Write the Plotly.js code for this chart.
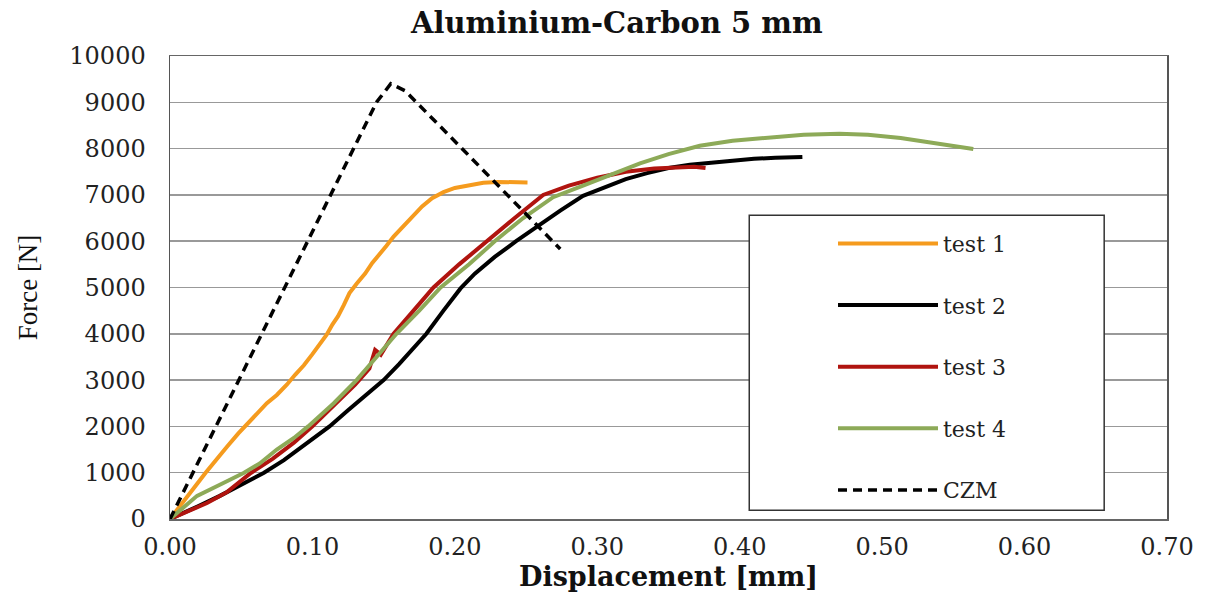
<!DOCTYPE html>
<html>
<head>
<meta charset="utf-8">
<script src="https://cdn.plot.ly/plotly-3.0.1.min.js"></script>
<style>
  html, body { margin: 0; padding: 0; background: #ffffff; }
  #chart { width: 1219px; height: 594px; }
</style>
</head>
<body>
<div id="chart"></div>
<script>
// Force–displacement curves, aluminium–carbon joint, 5 mm overlap

// test 1
const test1X = [0, 0.006, 0.012, 0.018, 0.025, 0.032, 0.04, 0.048, 0.055, 0.062, 0.068, 0.075, 0.082, 0.088, 0.094, 0.1, 0.105, 0.11, 0.114, 0.118, 0.122, 0.126, 0.131, 0.137, 0.142, 0.147, 0.152, 0.157, 0.163, 0.17, 0.177, 0.184, 0.192, 0.2, 0.21, 0.22, 0.23, 0.24, 0.251];
const test1Y = [0, 230, 480, 720, 1000, 1270, 1560, 1850, 2080, 2300, 2500, 2680, 2900, 3120, 3320, 3560, 3760, 3980, 4200, 4380, 4620, 4880, 5080, 5300, 5530, 5700, 5900, 6100, 6300, 6520, 6750, 6930, 7060, 7150, 7210, 7260, 7280, 7280, 7270];

// test 2
const test2X = [0, 0.01, 0.02, 0.035, 0.05, 0.066, 0.08, 0.095, 0.112, 0.125, 0.138, 0.15, 0.161, 0.17, 0.18, 0.192, 0.204, 0.214, 0.228, 0.243, 0.258, 0.274, 0.29, 0.305, 0.32, 0.335, 0.35, 0.365, 0.38, 0.395, 0.41, 0.425, 0.444];
const test2Y = [0, 130, 280, 500, 740, 1000, 1270, 1600, 2000, 2350, 2680, 3000, 3350, 3650, 4000, 4500, 4980, 5300, 5660, 6000, 6330, 6660, 6980, 7170, 7340, 7470, 7580, 7650, 7700, 7750, 7780, 7800, 7820];

// test 3
const test3X = [0, 0.013, 0.026, 0.04, 0.057, 0.072, 0.087, 0.1, 0.115, 0.13, 0.14, 0.144, 0.148, 0.157, 0.171, 0.185, 0.203, 0.222, 0.242, 0.262, 0.28, 0.3, 0.32, 0.34, 0.355, 0.368, 0.376];
const test3Y = [0, 170, 345, 580, 1000, 1300, 1650, 2000, 2450, 2900, 3250, 3650, 3550, 4000, 4500, 5000, 5500, 6000, 6500, 7000, 7200, 7370, 7500, 7570, 7600, 7610, 7580];

// test 4
const test4X = [0, 0.01, 0.019, 0.035, 0.052, 0.063, 0.075, 0.087, 0.097, 0.115, 0.131, 0.145, 0.159, 0.175, 0.19, 0.21, 0.228, 0.248, 0.269, 0.29, 0.31, 0.33, 0.35, 0.372, 0.395, 0.419, 0.445, 0.47, 0.49, 0.513, 0.535, 0.55, 0.564];
const test4Y = [0, 250, 500, 740, 1000, 1200, 1500, 1750, 2000, 2500, 3000, 3500, 4000, 4500, 5000, 5500, 6000, 6500, 6950, 7200, 7440, 7680, 7880, 8060, 8170, 8240, 8300, 8320, 8300, 8230, 8130, 8060, 7990];

// cohesive zone model prediction
const czmX = [0, 0.145, 0.155, 0.165, 0.206, 0.228, 0.274];
const czmY = [0, 9000, 9400, 9250, 7970, 7280, 5830];

const seriesNames = ['test 1', 'test 2', 'test 3', 'test 4', 'CZM'];

const serif = '"DejaVu Serif", "Liberation Serif", serif';

const traces = [
  { x: test1X, y: test1Y, name: seriesNames[0], line: { color: '#F59B1E', width: 4 } },
  { x: test2X, y: test2Y, name: seriesNames[1], line: { color: '#000000', width: 4 } },
  { x: test3X, y: test3Y, name: seriesNames[2], line: { color: '#B0140F', width: 4 } },
  { x: test4X, y: test4Y, name: seriesNames[3], line: { color: '#8DAA58', width: 4 } },
  { x: czmX, y: czmY, name: seriesNames[4], line: { color: '#000000', width: 3.5, dash: '9px,6px' } }
].map(t => Object.assign({ type: 'scatter', mode: 'lines' }, t));

const layout = {
  width: 1219,
  height: 594,
  margin: { l: 170, r: 52, t: 56, b: 75 },
  paper_bgcolor: '#ffffff',
  plot_bgcolor: '#ffffff',
  font: { family: serif, color: '#222222', size: 22 },
  title: {
    text: '<b>Aluminium-Carbon 5 mm</b>',
    font: { family: serif, size: 29, color: '#111111' },
    x: 0.506, xref: 'container', xanchor: 'center',
    y: 0.962, yref: 'container', yanchor: 'middle'
  },
  xaxis: {
    range: [0, 0.7],
    dtick: 0.1,
    tick0: 0,
    tickformat: '.2f',
    showgrid: false,
    zeroline: false,
    showline: true, mirror: true, linecolor: '#666666', linewidth: 1.5,
    ticks: '',
    ticklabelstandoff: 6,
    tickfont: { family: serif, size: 24, color: '#222222' },
    title: { text: '<b>Displacement [mm]</b>', font: { family: serif, size: 27, color: '#111111' }, standoff: 4 }
  },
  yaxis: {
    range: [0, 10000],
    dtick: 1000,
    tick0: 0,
    tickformat: 'd',
    showgrid: true, gridcolor: '#999999', gridwidth: 1.5,
    zeroline: false,
    showline: true, mirror: true, linecolor: '#555555', linewidth: 1.5,
    ticks: '',
    ticklabelstandoff: 18,
    tickfont: { family: serif, size: 24, color: '#222222' },
    title: { text: 'Force [N]', font: { family: '"Liberation Serif", serif', size: 27, color: '#111111' }, standoff: 24 }
  },
  showlegend: true,
  legend: {
    x: 0.665, xanchor: 'left',
    y: 0.64, yanchor: 'top',
    bgcolor: 'rgba(0,0,0,0)',
    borderwidth: 0,
    itemwidth: 100,
    tracegroupgap: 30,
    traceorder: 'grouped',
    font: { family: serif, size: 22, color: '#222222' }
  },
  shapes: [{
    type: 'rect', xref: 'paper', yref: 'paper',
    x0: 0.581, x1: 0.937, y0: 0.019, y1: 0.656,
    fillcolor: '#ffffff', line: { color: '#333333', width: 1.5 }, layer: 'above'
  }]
};

traces.forEach((t, i) => { t.legendgroup = 'g' + i; });

Plotly.newPlot('chart', traces, layout, { displayModeBar: false, staticPlot: true });
</script>
</body>
</html>
